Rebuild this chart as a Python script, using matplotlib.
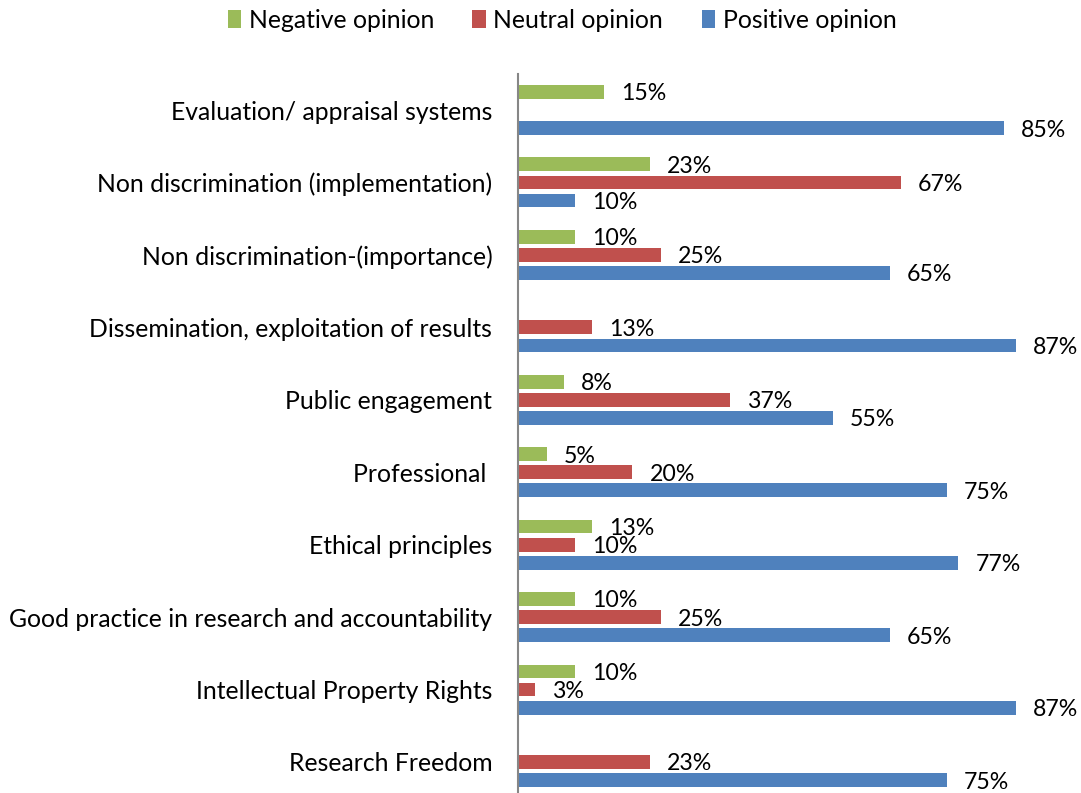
import matplotlib
matplotlib.use("Agg")
import matplotlib.pyplot as plt
import numpy as np
from matplotlib.patches import Patch

plt.rcParams['font.family'] = ['Lato', 'DejaVu Sans']

categories = [
    "Evaluation/ appraisal systems",
    "Non discrimination (implementation)",
    "Non discrimination-(importance)",
    "Dissemination, exploitation of results",
    "Public engagement",
    "Professional ",
    "Ethical principles",
    "Good practice in research and accountability",
    "Intellectual Property Rights",
    "Research Freedom",
]
negative = [15, 23, 10, None, 8, 5, 13, 10, 10, None]
neutral = [None, 67, 25, 13, 37, 20, 10, 25, 3, 23]
positive = [85, 10, 65, 87, 55, 75, 77, 65, 87, 75]

series_names = ["Negative opinion", "Neutral opinion", "Positive opinion"]
colors = ["#9BBB59", "#C0504D", "#4F81BD"]

W, H = 1081, 793
fig = plt.figure(figsize=(W / 100, H / 100), dpi=100)
left_px, top_px, right_px = 518, 74, 1081
ax = fig.add_axes([left_px / W, 0, (right_px - left_px) / W, 1 - top_px / H])

offsets = [-0.25, 0.0, 0.25]
bar_h = 0.19
y = np.arange(len(categories))
for vals, off, col in zip([negative, neutral, positive], offsets, colors):
    for i, v in enumerate(vals):
        if v is None:
            continue
        ax.barh(y[i] + off, v, height=bar_h, color=col, edgecolor='none')
        ax.annotate(f"{v}%", xy=(v, y[i] + off), xytext=(17, -2),
                    textcoords='offset pixels', ha='left', va='center',
                    fontsize=16.7, color='black', annotation_clip=False)

ax.set_xlim(0, (right_px - left_px) / 5.72)
ax.set_ylim((H - 110) / 72.44, (top_px - 110) / 72.44)
ax.set_yticks(y)
ax.set_yticklabels(categories, fontsize=17.8)
ax.tick_params(axis='y', length=0, pad=18.5)
ax.set_xticks([])
for s in ['top', 'right', 'bottom']:
    ax.spines[s].set_visible(False)
ax.spines['left'].set_color('#868686')
ax.spines['left'].set_linewidth(1.5)

handles = [Patch(facecolor=c, edgecolor='none', label=n) for c, n in zip(colors, series_names)]
fig.legend(handles=handles, loc='center', bbox_to_anchor=(562 / W, 1 - 20 / H),
           ncol=3, frameon=False, fontsize=17.8, handlelength=0.55, handleheight=0.75,
           handletextpad=0.3, columnspacing=1.55, borderaxespad=0)

fig.savefig("out.png", dpi=100)
